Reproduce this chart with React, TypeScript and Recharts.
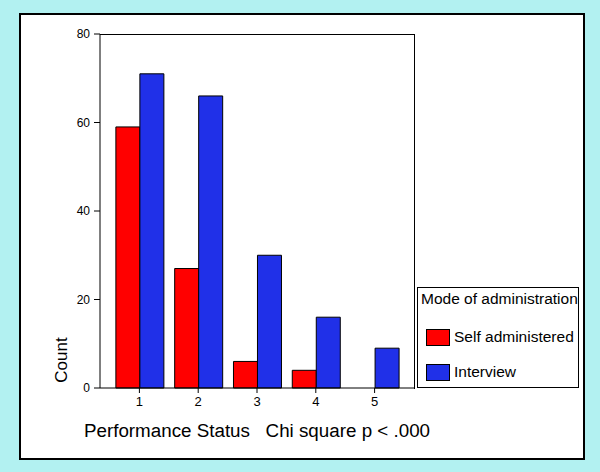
import { BarChart, Bar, XAxis, YAxis } from 'recharts';

const statuses = ['1', '2', '3', '4', '5'];
const selfAdministered = [59, 27, 6, 4, 0];
const interview = [71, 66, 30, 16, 9];
const countTicks = [0, 20, 40, 60, 80];
const seriesNames = ['Self administered', 'Interview'];
const legendTitle = 'Mode of administration';
const xTitle = 'Performance Status   Chi square p < .000';
const yTitle = 'Count';

const RED = '#ff0000';
const BLUE = '#2030e8';
const FONT = '"Liberation Sans", Arial, sans-serif';

const data = statuses.map((s, i) => ({
  status: s,
  self: selfAdministered[i],
  interview: interview[i],
}));

const seriesColors = [RED, BLUE];

function XTitle({ viewBox }: any) {
  return (
    <text
      x={viewBox.x + viewBox.width / 2}
      y={430}
      textAnchor="middle"
      dominantBaseline="central"
      fontSize={18.8}
      fontFamily={FONT}
      fill="#000"
      style={{ whiteSpace: 'pre' }}
    >
      {xTitle}
    </text>
  );
}

function YTitle({ viewBox }: any) {
  const x = 61;
  const y = viewBox.y + viewBox.height - 28;
  return (
    <text
      x={x}
      y={y}
      transform={`rotate(-90 ${x} ${y})`}
      textAnchor="middle"
      dominantBaseline="central"
      fontSize={17}
      fontFamily={FONT}
      fill="#000"
    >
      {yTitle}
    </text>
  );
}

export default function App() {
  return (
    <div
      style={{
        position: 'absolute',
        left: 0,
        top: 0,
        width: 600,
        height: 472,
        background: '#b2f1f1',
        fontFamily: FONT,
      }}
    >
      <div
        style={{
          position: 'absolute',
          left: 19,
          top: 13,
          width: 562,
          height: 443,
          background: '#fff',
          border: '2px solid #000',
        }}
      />
      <div style={{ position: 'absolute', left: 0, top: 0 }}>
        <BarChart
          width={600}
          height={472}
          data={data}
          margin={{ top: 34, right: 186, bottom: 54, left: 50 }}
          barCategoryGap="10%"
          barGap={0}
        >
          <XAxis
            dataKey="status"
            padding={{ left: 10, right: 10 }}
            height={30}
            stroke="#000"
            tickSize={5}
            tickMargin={4}
            tick={{ fill: '#000', fontSize: 13, fontFamily: FONT }}
            label={<XTitle />}
          />
          <YAxis
            domain={[0, 80]}
            ticks={countTicks}
            width={50}
            stroke="#000"
            tickSize={6}
            tickMargin={4}
            tick={{ fill: '#000', fontSize: 12, fontFamily: FONT }}
            label={<YTitle />}
          />
          <Bar dataKey="self" name={seriesNames[0]} fill={RED} stroke="#000" strokeWidth={1} isAnimationActive={false} />
          <Bar dataKey="interview" name={seriesNames[1]} fill={BLUE} stroke="#000" strokeWidth={1} isAnimationActive={false} />
        </BarChart>
      </div>
      {/* top and right edges of the plot frame */}
      <div
        style={{
          position: 'absolute',
          left: 100,
          top: 34,
          width: 314,
          height: 354,
          borderTop: '1px solid #000',
          borderRight: '1px solid #000',
          pointerEvents: 'none',
        }}
      />
      <div
        style={{
          position: 'absolute',
          left: 417,
          top: 287,
          width: 160,
          height: 99,
          border: '1px solid #000',
          background: '#fff',
          fontSize: 15.5,
          color: '#000',
        }}
      >
        <div style={{ position: 'absolute', left: 3, top: 2, whiteSpace: 'nowrap' }}>{legendTitle}</div>
        {seriesNames.map((name, i) => (
          <div
            key={name}
            style={{
              position: 'absolute',
              left: 8,
              top: 40 + i * 35,
              display: 'flex',
              alignItems: 'center',
              whiteSpace: 'nowrap',
            }}
          >
            <span
              style={{
                display: 'inline-block',
                width: 22,
                height: 15,
                background: seriesColors[i],
                border: '1px solid #000',
                marginRight: 4,
              }}
            />
            <span>{name}</span>
          </div>
        ))}
      </div>
    </div>
  );
}
